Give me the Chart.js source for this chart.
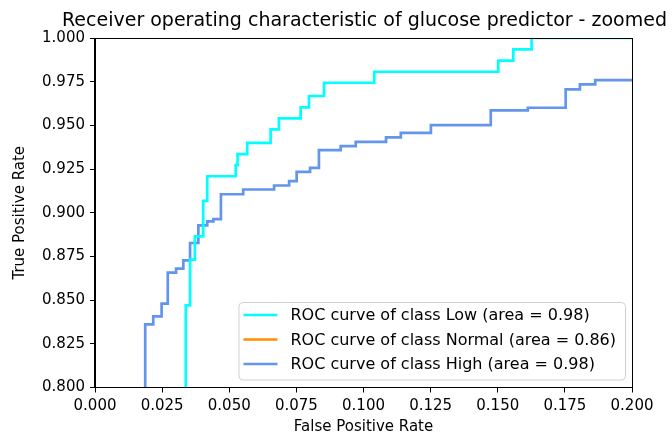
<!DOCTYPE html>
<html>
<head>
<meta charset="utf-8">
<script src="https://cdn.jsdelivr.net/npm/chart.js@4.4.0/dist/chart.umd.min.js"></script>
<style>
    html, body { margin: 0; padding: 0; background: #fff; }
    #wrap { width: 672px; height: 437px; }
</style>
</head>
<body>
<div id="wrap"><canvas id="rocChart"></canvas></div>
<script>
const chartTitle = 'Receiver operating characteristic of glucose predictor - zoomed';
const classNames = ['Low', 'Normal', 'High'];
const classAreas = [0.98, 0.86, 0.98];
const classColors = ['#00ffff', '#ff8c00', '#6495ed'];

// ROC points (fpr, tpr)
const lowFpr = [0, 0.0338, 0.0354, 0.0372, 0.0403, 0.0418, 0.0524, 0.0531, 0.0567, 0.0654, 0.0685, 0.0766, 0.0797, 0.0853, 0.1040, 0.1502, 0.1558, 0.1626, 1.0];
const lowTpr = [0, 0.8470, 0.8732, 0.8865, 0.9068, 0.9209, 0.9272, 0.9335, 0.9400, 0.9477, 0.9540, 0.9603, 0.9668, 0.9744, 0.9807, 0.9870, 0.9935, 1.0, 1.0];

// class Normal stays below the zoomed window
const normalFpr = [];
const normalTpr = [];

const highFpr = [0, 0.0187, 0.0217, 0.0248, 0.0271, 0.0302, 0.0329, 0.0354, 0.0385, 0.0418, 0.0441, 0.0469, 0.0552, 0.0667, 0.0723, 0.0751, 0.0801, 0.0834, 0.0915, 0.0971, 0.1084, 0.1139, 0.1251, 0.1474, 0.1612, 0.1753, 0.1806, 0.1863, 1.0];
const highTpr = [0, 0.8361, 0.8407, 0.8480, 0.8657, 0.8680, 0.8728, 0.8827, 0.8928, 0.8951, 0.8964, 0.9106, 0.9133, 0.9156, 0.9181, 0.9234, 0.9257, 0.9358, 0.9381, 0.9406, 0.9431, 0.9457, 0.9501, 0.9586, 0.9601, 0.9706, 0.9735, 0.9759, 1.0];

const xTicks = [0, 0.025, 0.05, 0.075, 0.1, 0.125, 0.15, 0.175, 0.2];
const yTicks = [0.8, 0.825, 0.85, 0.875, 0.9, 0.925, 0.95, 0.975, 1.0];

const FONT = '"DejaVu Sans", sans-serif';

function toPoints(fpr, tpr) {
    return fpr.map((x, i) => ({ x: x, y: tpr[i] }));
}

/* Titel, Rahmen und Legende wie bei matplotlib */
const titlePlugin = {
    id: 'mplTitle',
    afterDraw(chart) {
        const { ctx, chartArea } = chart;
        ctx.save();
        ctx.font = '19px ' + FONT;
        ctx.fillStyle = '#000';
        ctx.textAlign = 'center';
        ctx.textBaseline = 'middle';
        ctx.fillText(chartTitle, (chartArea.left + chartArea.right) / 2 + 1, 21);
        ctx.restore();
    }
};

const framePlugin = {
    id: 'mplFrame',
    afterDatasetsDraw(chart) {
        const { ctx, chartArea } = chart;
        ctx.save();
        ctx.strokeStyle = '#000';
        ctx.lineWidth = 1;
        ctx.strokeRect(Math.round(chartArea.left) - 0.5, Math.round(chartArea.top) + 0.5,
            Math.round(chartArea.right - chartArea.left) + 1, Math.round(chartArea.bottom - chartArea.top) - 1);
        ctx.restore();
    }
};

const legendPlugin = {
    id: 'mplLegend',
    afterDraw(chart) {
        const { ctx, chartArea } = chart;
        const items = chart.data.datasets;
        ctx.save();
        ctx.font = '16px ' + FONT;
        const rowH = 24.5;
        const handle = 34;
        const textW = Math.max(...items.map(d => ctx.measureText(d.label).width));
        const w = 5 + handle + 13 + textW + 9;
        const h = items.length * rowH + 4;
        const x = chartArea.right - 7 - w;
        const y = chartArea.bottom - 8 - h;

        ctx.beginPath();
        ctx.roundRect(x + 0.5, y + 0.5, w, h, 4);
        ctx.fillStyle = 'rgba(255,255,255,0.8)';
        ctx.fill();
        ctx.strokeStyle = '#d0d0d0';
        ctx.lineWidth = 1;
        ctx.stroke();

        items.forEach((d, i) => {
            const cy = y + 13 + i * rowH;
            ctx.beginPath();
            ctx.moveTo(x + 5, cy);
            ctx.lineTo(x + 5 + handle, cy);
            ctx.strokeStyle = d.borderColor;
            ctx.lineWidth = 2.7;
            ctx.stroke();
            ctx.fillStyle = '#000';
            ctx.textAlign = 'left';
            ctx.textBaseline = 'middle';
            ctx.fillText(d.label, x + 5 + handle + 13, cy + 1);
        });
        ctx.restore();
    }
};

const seriesFpr = [lowFpr, normalFpr, highFpr];
const seriesTpr = [lowTpr, normalTpr, highTpr];

const datasets = classNames.map((name, i) => ({
    label: 'ROC curve of class ' + name + ' (area = ' + classAreas[i].toFixed(2) + ')',
    data: toPoints(seriesFpr[i], seriesTpr[i]),
    borderColor: classColors[i],
    backgroundColor: classColors[i],
    borderWidth: 2.7,
    pointRadius: 0,
    stepped: 'before',
    fill: false,
}));

const ctx = document.getElementById('rocChart').getContext('2d');
new Chart(ctx, {
    type: 'line',
    data: { datasets: datasets },
    plugins: [framePlugin, titlePlugin, legendPlugin],
    options: {
        responsive: true,
        maintainAspectRatio: false,
        animation: false,
        layout: { padding: { top: 38, right: 40, left: 0, bottom: 0 } },
        plugins: {
            legend: { display: false },
            tooltip: { enabled: false },
        },
        scales: {
            x: {
                type: 'linear',
                min: 0,
                max: 0.2,
                afterBuildTicks: axis => { axis.ticks = xTicks.map(v => ({ value: v })); },
                afterFit: axis => { axis.height = 49.5; },
                grid: { drawOnChartArea: false, drawTicks: true, tickLength: 5, color: '#000' },
                border: { display: true, color: '#000', width: 1 },
                ticks: {
                    color: '#000',
                    font: { family: FONT, size: 15 },
                    padding: 5,
                    maxRotation: 0,
                    callback: value => Number(value).toFixed(3),
                },
                title: {
                    display: true,
                    text: 'False Positive Rate',
                    color: '#000',
                    font: { family: FONT, size: 15 },
                    padding: { top: 0, bottom: 1 },
                },
            },
            y: {
                type: 'linear',
                min: 0.8,
                max: 1.0,
                afterBuildTicks: axis => { axis.ticks = yTicks.map(v => ({ value: v })); },
                afterFit: axis => { axis.width = 95; },
                grid: { drawOnChartArea: false, drawTicks: true, tickLength: 5, color: '#000' },
                border: { display: true, color: '#000', width: 1 },
                ticks: {
                    color: '#000',
                    font: { family: FONT, size: 15 },
                    padding: 5,
                    callback: value => Number(value).toFixed(3),
                },
                title: {
                    display: true,
                    text: 'True Positive Rate',
                    color: '#000',
                    font: { family: FONT, size: 15 },
                    padding: { top: 11, bottom: 0 },
                },
            },
        },
    },
});
</script>
</body>
</html>
